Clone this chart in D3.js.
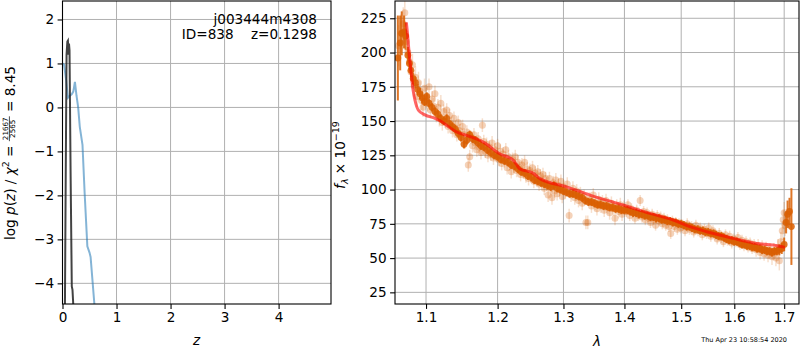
<!DOCTYPE html>
<html>
<head>
<meta charset="utf-8">
<script src="https://cdn.jsdelivr.net/npm/d3@7"></script>
<style>
  body { margin: 0; background: #fff; }
  svg { font-family: "DejaVu Sans", sans-serif; }
</style>
</head>
<body>
<div id="chart"></div>
<script>
// ---- left panel: log p(z) ----
const zBlue = [0, 0.03, 0.07, 0.10, 0.13, 0.17, 0.20, 0.23, 0.26, 0.29, 0.32, 0.37, 0.41, 0.46, 0.50, 0.52, 0.59, 0.62];
const pBlue = [1.0, 0.97, 0.6, 0.22, 0.26, 0.3, 0.36, 0.58, 0.26, 0.0, -0.44, -0.85, -1.95, -3.16, -3.3, -3.4, -4.47, -5.2];
const zBlack = [0.035, 0.045, 0.06, 0.075, 0.09, 0.10, 0.11, 0.12, 0.13, 0.15, 0.172, 0.185, 0.20, 0.21];
const pBlack = [-6, -4.5, -1.5, 1.2, 1.5, 1.52, 1.2, 1.45, 1.3, -1.5, -4.07, -4.15, -4.5, -5.5];
const zTicks = [0, 1, 2, 3, 4];
const pTicks = [-4, -3, -2, -1, 0, 1, 2];

// ---- right panel: spectrum ----
// unbinned points [lambda, flux, err]
const specRaw = [
  [1.064,205,15],[1.067,214,14],[1.070,221,12],[1.072,229,10],[1.074,208,10],[1.076,200,9],[1.078,193,9],
  [1.080,186,8],[1.082,191,8],[1.084,176,8],[1.086,182,8],[1.088,168,8],[1.090,178,8],[1.092,172,7],
  [1.094,165,7],[1.096,160,7],[1.098,174,7],[1.100,167,7],[1.102,163,6],[1.104,175,6],[1.106,158,6],
  [1.108,166,6],[1.110,161,6],[1.112,170,6],[1.114,155,6],[1.116,160,6],[1.118,152,6],[1.120,163,6],
  [1.122,149,6],[1.124,157,5],[1.126,150,5],[1.128,158,5],[1.130,146,5],[1.132,154,5],[1.134,148,5],
  [1.136,143,5],[1.138,152,5],[1.140,145,5],[1.142,140,5],[1.144,149,5],[1.146,143,5],[1.148,138,5],
  [1.150,146,5],[1.152,140,5],[1.154,135,5],[1.156,142,5],[1.158,118,5],[1.160,124,5],[1.162,138,5],
  [1.164,132,5],[1.166,140,5],[1.168,134,5],[1.170,129,5],[1.172,137,5],[1.174,131,5],[1.176,127,5],
  [1.178,147,5],[1.180,135,5],[1.182,128,5],[1.184,133,5],[1.186,125,5],[1.188,131,5],[1.190,126,5],
  [1.192,134,5],[1.194,123,5],[1.196,129,5],[1.198,125,5],[1.200,132,5],[1.202,122,5],[1.204,128,5],
  [1.206,119,5],[1.208,126,5],[1.210,121,5],[1.212,129,5],[1.214,116,5],[1.216,124,5],[1.218,119,5],
  [1.220,113,5],[1.222,122,5],[1.224,117,5],[1.226,124,5],[1.228,114,5],[1.230,120,5],[1.232,116,5],
  [1.234,111,5],[1.236,118,5],[1.238,113,5],[1.240,120,5],[1.242,110,5],[1.244,115,5],[1.246,108,5],
  [1.248,114,5],[1.250,110,5],[1.252,116,5],[1.254,106,5],[1.256,112,5],[1.258,108,5],[1.260,113,5],
  [1.262,104,5],[1.264,110,5],[1.266,106,5],[1.268,111,5],[1.270,101,5],[1.272,108,5],[1.274,104,5],
  [1.276,96,5],[1.278,108,5],[1.280,101,5],[1.282,94,5],[1.284,105,5],[1.286,99,5],[1.288,107,5],
  [1.290,97,5],[1.292,103,5],[1.294,100,5],[1.296,106,5],[1.298,95,5],[1.300,102,5],[1.303,98,5],
  [1.306,104,5],[1.309,81,5],[1.312,96,5],[1.315,101,5],[1.318,94,5],[1.321,99,5],[1.324,92,5],
  [1.327,97,5],[1.330,90,5],[1.333,95,5],[1.336,76,5],[1.339,76,5],[1.342,93,5],[1.345,88,5],
  [1.348,96,5],[1.351,90,5],[1.354,86,5],[1.357,93,5],[1.360,88,5],[1.363,91,5],[1.366,85,5],
  [1.369,92,5],[1.372,87,5],[1.375,83,5],[1.378,90,5],[1.381,86,5],[1.384,79,5],[1.387,88,5],
  [1.390,84,5],[1.393,89,5],[1.396,82,5],[1.399,87,5],[1.403,84,4],[1.406,89,4],[1.409,81,4],
  [1.412,86,4],[1.415,83,4],[1.418,79,4],[1.421,85,4],[1.424,81,4],[1.427,92,4],[1.430,80,4],
  [1.433,84,4],[1.436,78,4],[1.439,83,4],[1.442,79,4],[1.445,76,4],[1.448,82,4],[1.451,78,4],
  [1.454,74,4],[1.457,81,4],[1.460,77,4],[1.463,80,4],[1.466,75,4],[1.469,79,4],[1.472,74,4],
  [1.475,78,4],[1.478,73,4],[1.481,68,4],[1.484,77,4],[1.487,73,4],[1.490,76,4],[1.493,71,4],
  [1.496,75,4],[1.499,72,4],[1.503,74,4],[1.507,70,4],[1.511,75,4],[1.515,71,4],[1.519,73,4],
  [1.523,69,4],[1.527,74,4],[1.531,70,4],[1.535,72,4],[1.539,67,4],[1.543,71,4],[1.547,68,4],
  [1.551,72,4],[1.555,66,4],[1.559,70,4],[1.563,67,4],[1.567,64,4],[1.571,68,4],[1.575,65,4],
  [1.579,62,4],[1.583,67,4],[1.587,63,4],[1.591,66,4],[1.595,61,4],[1.599,64,4],[1.603,62,4],
  [1.607,65,4],[1.611,60,4],[1.615,63,4],[1.619,59,4],[1.623,62,4],[1.627,58,4],[1.631,61,4],
  [1.635,57,4],[1.639,60,4],[1.643,56,5],[1.647,59,5],[1.651,54,5],[1.655,58,5],[1.659,53,5],
  [1.663,57,5],[1.667,52,5],[1.671,56,5],[1.675,51,6],[1.679,55,6],[1.683,50,6],[1.687,58,6],
  [1.690,48,7],[1.693,62,7],[1.696,70,7],[1.698,78,7],[1.700,83,8],[1.702,74,8]
];
// binned points [lambda, flux, err]
const specBin = [
  [1.063,196,31],[1.066,207,20],[1.068,214,16],[1.071,215,12],[1.073,212,10],[1.076,198,6],[1.078,192,5],
  [1.080,187,5],[1.083,181,4],[1.086,178,4],[1.089,173,4],[1.092,170,4],[1.095,167,4],[1.098,164,3],
  [1.101,168,3],[1.104,163,3],[1.108,160,3],[1.112,157,3],[1.116,155,3],[1.120,152,3],[1.124,150,3],
  [1.128,152,3],[1.132,148,3],[1.136,146,3],[1.140,144,3],[1.144,141,3],[1.148,138,3],[1.152,133,3],
  [1.156,136,3],[1.160,140,3],[1.164,137,3],[1.168,136,3],[1.172,134,3],[1.176,132,3],[1.180,131,3],
  [1.185,129,3],[1.190,127,3],[1.195,125,3],[1.200,124,3],[1.205,122,3],[1.210,121,3],[1.215,120,3],
  [1.220,118,3],[1.225,117,3],[1.230,115,3],[1.235,113,3],[1.240,112,3],[1.245,110,3],[1.250,109,3],
  [1.255,107,3],[1.260,106,3],[1.265,105,3],[1.270,104,3],[1.275,103,3],[1.280,102,3],[1.285,103,3],
  [1.290,101,3],[1.295,100,3],[1.300,99,3],[1.305,98,3],[1.310,97,3],[1.315,97,3],[1.320,96,3],
  [1.325,95,3],[1.330,94,3],[1.335,92,3],[1.340,91,3],[1.345,91,3],[1.350,90,3],[1.355,89,3],
  [1.360,89,3],[1.365,88,3],[1.370,88,3],[1.375,87,3],[1.380,87,3],[1.385,86,3],[1.390,86,3],
  [1.395,85,3],[1.400,85,3],[1.405,85,3],[1.410,84,3],[1.415,83,3],[1.420,83,3],[1.425,82,3],
  [1.430,82,3],[1.435,81,3],[1.440,81,3],[1.445,80,3],[1.450,80,3],[1.455,79,3],[1.460,79,3],
  [1.465,78,3],[1.470,78,3],[1.475,77,3],[1.480,77,3],[1.485,76,3],[1.490,76,3],[1.495,75,3],
  [1.500,75,3],[1.505,74,3],[1.510,73,3],[1.515,73,3],[1.520,72,3],[1.525,71,3],[1.530,71,3],
  [1.535,70,3],[1.540,70,3],[1.545,69,3],[1.550,69,3],[1.555,68,3],[1.560,68,3],[1.565,67,3],
  [1.570,66,3],[1.575,66,3],[1.580,65,3],[1.585,64,3],[1.590,63,3],[1.595,63,3],[1.600,62,3],
  [1.605,62,3],[1.610,61,3],[1.615,60,3],[1.620,60,3],[1.625,59,3],[1.630,59,3],[1.635,58,3],
  [1.640,58,3],[1.645,57,3],[1.650,57,3],[1.655,56,3],[1.660,56,3],[1.665,55,3],[1.670,55,3],
  [1.675,54,3],[1.680,55,3],[1.685,55,3],[1.690,56,4],[1.695,57,4],[1.700,60,5],[1.704,76,8],
  [1.707,82,10],[1.711,84,10],[1.715,73,28]
];
const modelWave = [1.0740,1.0755,1.0770,1.0790,1.0810,1.0830,1.0854,1.0898,1.0987,1.1121,1.1212,1.1302,1.1418,1.1558,1.1793,1.2035,1.2231,1.2331,1.2527,1.2634,1.3051,1.3426,1.398,1.4441,1.4856,1.5161,1.5472,1.5979,1.644,1.6775,1.7015];
const modelFlux = [222,214,204,192,182,172,165,158,154.5,152,149.5,146,142,139.5,134.6,126,121.5,115,112,108,102,96,88.7,82.6,77.8,72.9,69.2,64.4,60.7,59.5,57.8];
const lamTicks = [1.1, 1.2, 1.3, 1.4, 1.5, 1.6, 1.7];
const fluxTicks = [25, 50, 75, 100, 125, 150, 175, 200, 225];

const width = 800, height = 350,
  fs = 13.6,
  gridColor = "#b0b0b0",
  orange = "#d95f02";

const svg = d3.select("#chart").append("svg")
  .attr("width", width).attr("height", height);

const defs = svg.append("defs");

function panel(x, y, xTicks, yTicks, xFmt, yFmt, id) {
  const [x0, x1] = x.range(), [y0, y1] = y.range();
  defs.append("clipPath").attr("id", id)
    .append("rect").attr("x", x0).attr("y", y1).attr("width", x1 - x0).attr("height", y0 - y1);

  const g = svg.append("g");
  g.append("g").selectAll("line").data(xTicks).enter().append("line")
    .attr("x1", d => x(d)).attr("x2", d => x(d)).attr("y1", y1).attr("y2", y0)
    .attr("stroke", gridColor).attr("stroke-width", 1);
  g.append("g").selectAll("line").data(yTicks).enter().append("line")
    .attr("y1", d => y(d)).attr("y2", d => y(d)).attr("x1", x0).attr("x2", x1)
    .attr("stroke", gridColor).attr("stroke-width", 1);

  const ax = svg.append("g").attr("transform", "translate(0," + y0 + ")")
    .call(d3.axisBottom(x).tickValues(xTicks).tickFormat(xFmt).tickSize(4.9).tickPadding(3.5).tickSizeOuter(0));
  const ay = svg.append("g").attr("transform", "translate(" + x0 + ",0)")
    .call(d3.axisLeft(y).tickValues(yTicks).tickFormat(yFmt).tickSize(4.9).tickPadding(3.5).tickSizeOuter(0));
  [ax, ay].forEach(a => {
    a.select(".domain").remove();
    a.selectAll("text").attr("font-size", fs).attr("font-family", "DejaVu Sans").attr("fill", "#000");
    a.selectAll("line").attr("stroke", "#000").attr("stroke-width", 1.1);
  });

  return svg.append("g").attr("clip-path", "url(#" + id + ")");
}

function frame(x, y) {
  const [x0, x1] = x.range(), [y0, y1] = y.range();
  svg.append("rect").attr("x", x0).attr("y", y1).attr("width", x1 - x0).attr("height", y0 - y1)
    .attr("fill", "none").attr("stroke", "#000").attr("stroke-width", 1.1);
}

// ---------- left panel ----------
const xz = d3.scaleLinear().domain([0, 4.97]).range([62.5, 331]);
const yp = d3.scaleLinear().domain([-4.47, 2.42]).range([304, 1]);
const lp = panel(xz, yp, zTicks, pTicks, d3.format("d"), d3.format("d"), "clipL");

const lineZ = d3.line().x(d => xz(d[0])).y(d => yp(d[1]));
lp.append("path").datum(d3.zip(zBlue, pBlue)).attr("d", lineZ)
  .attr("fill", "none").attr("stroke", "#1f77b4").attr("stroke-opacity", 0.55).attr("stroke-width", 2);
lp.append("path").datum(d3.zip(zBlack, pBlack)).attr("d", lineZ)
  .attr("fill", "none").attr("stroke", "#222").attr("stroke-opacity", 0.85).attr("stroke-width", 2);
frame(xz, yp);

svg.append("text").attr("x", 317).attr("y", 24).attr("text-anchor", "end")
  .attr("font-size", fs).text("j003444m4308");
svg.append("text").attr("x", 317).attr("y", 39).attr("text-anchor", "end")
  .attr("font-size", fs).attr("xml:space", "preserve").text("ID=838    z=0.1298");

svg.append("text").attr("x", 196.5).attr("y", 345).attr("text-anchor", "middle")
  .attr("font-size", fs).attr("font-style", "italic").text("z");

// left y label with stacked fraction
const yl = svg.append("g").attr("transform", "translate(15,153) rotate(-90)").attr("font-size", fs);
const t1 = yl.append("text").attr("xml:space", "preserve");
t1.append("tspan").text("log ");
t1.append("tspan").attr("font-style", "italic").text("p");
t1.append("tspan").text("(");
t1.append("tspan").attr("font-style", "italic").text("z");
t1.append("tspan").text(") / ");
t1.append("tspan").attr("font-style", "italic").text("χ");
t1.append("tspan").attr("font-size", 9.5).attr("dy", -6).text("2");
t1.append("tspan").attr("dy", 6).text(" = ");
const num = yl.append("text").attr("font-size", 7.2).attr("text-anchor", "middle").attr("y", -6.9).text("21667");
const den = yl.append("text").attr("font-size", 7.2).attr("text-anchor", "middle").attr("y", 0).text("2565");
const t3 = yl.append("text").attr("xml:space", "preserve").text(" = 8.45");
const w1 = t1.node().getComputedTextLength();
const wf = Math.max(num.node().getComputedTextLength(), den.node().getComputedTextLength()) + 2;
const w3 = t3.node().getComputedTextLength();
const start = -(w1 + wf + w3) / 2;
t1.attr("x", start);
num.attr("x", start + w1 + wf / 2);
den.attr("x", start + w1 + wf / 2);
yl.append("line").attr("x1", start + w1).attr("x2", start + w1 + wf)
  .attr("y1", -5.6).attr("y2", -5.6).attr("stroke", "#000").attr("stroke-width", 0.7);
t3.attr("x", start + w1 + wf);

// ---------- right panel ----------
const xl = d3.scaleLog().domain([1.0593, 1.7309]).range([395, 799]);
const yf = d3.scaleLinear().domain([16.5, 237.6]).range([304, 1]);
const rp = panel(xl, yf, lamTicks, fluxTicks, d3.format(".1f"), d3.format("d"), "clipR");

rp.append("g").selectAll("line").data(specRaw).enter().append("line")
  .attr("x1", d => xl(d[0])).attr("x2", d => xl(d[0]))
  .attr("y1", d => yf(d[1] - d[2])).attr("y2", d => yf(d[1] + d[2]))
  .attr("stroke", orange).attr("stroke-opacity", 0.2).attr("stroke-width", 1.5);
rp.append("g").selectAll("circle").data(specRaw).enter().append("circle")
  .attr("cx", d => xl(d[0])).attr("cy", d => yf(d[1])).attr("r", 3.5)
  .attr("fill", orange).attr("fill-opacity", 0.28);

rp.append("g").selectAll("line").data(specBin).enter().append("line")
  .attr("x1", d => xl(d[0])).attr("x2", d => xl(d[0]))
  .attr("y1", d => yf(d[1] - d[2])).attr("y2", d => yf(d[1] + d[2]))
  .attr("stroke", orange).attr("stroke-opacity", 0.85).attr("stroke-width", 2);
rp.append("g").selectAll("circle").data(specBin).enter().append("circle")
  .attr("cx", d => xl(d[0])).attr("cy", d => yf(d[1])).attr("r", 3.4)
  .attr("fill", orange).attr("fill-opacity", 0.85);

const lineM = d3.line().curve(d3.curveMonotoneX).x(d => xl(d[0])).y(d => yf(d[1]));
rp.append("path").datum(d3.zip(modelWave, modelFlux)).attr("d", lineM)
  .attr("fill", "none").attr("stroke", "#ff0000").attr("stroke-opacity", 0.6).attr("stroke-width", 3);
frame(xl, yf);

svg.append("text").attr("x", 597).attr("y", 346).attr("text-anchor", "middle")
  .attr("font-size", fs).attr("font-style", "italic").text("λ");

const fl = svg.append("text").attr("transform", "translate(345,155) rotate(-90)")
  .attr("text-anchor", "middle").attr("font-size", fs).attr("xml:space", "preserve");
fl.append("tspan").attr("font-style", "italic").text("f");
fl.append("tspan").attr("font-style", "italic").attr("font-size", 9.5).attr("dy", 3).text("λ");
fl.append("tspan").attr("dy", -3).text(" × 10");
fl.append("tspan").attr("font-size", 9.5).attr("dy", -6).text("−19");

svg.append("text").attr("x", 787).attr("y", 342).attr("text-anchor", "end")
  .attr("font-size", 6.5).text("Thu Apr 23 10:58:54 2020");
</script>
</body>
</html>
